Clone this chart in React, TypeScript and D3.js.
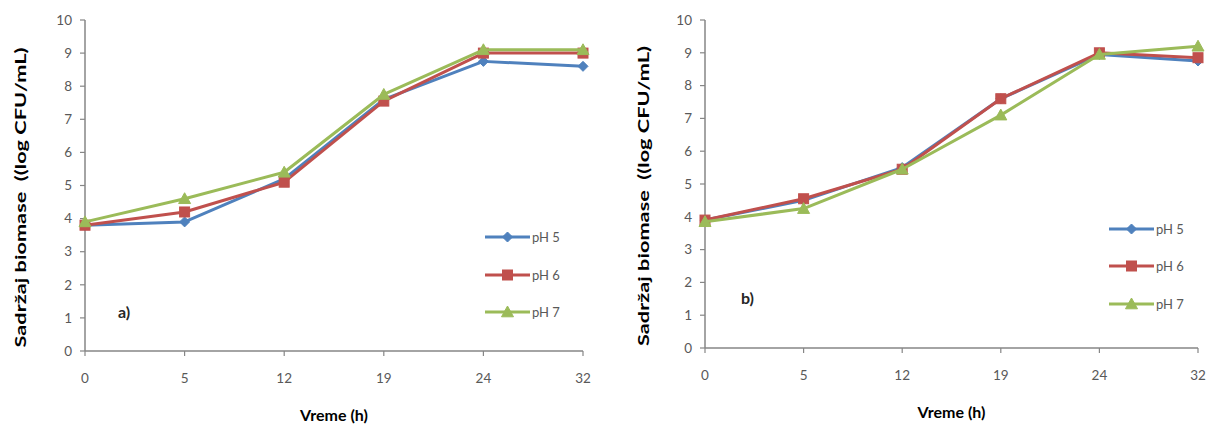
import React from "react";
import * as d3 from "d3";

const categories = ["0", "5", "12", "19", "24", "32"];
const seriesNames = ["pH 5", "pH 6", "pH 7"];
const colors = ["#4F81BD", "#C0504D", "#9BBB59"];
const yTicks = [0, 1, 2, 3, 4, 5, 6, 7, 8, 9, 10];

const panelA_pH5 = [3.8, 3.9, 5.2, 7.6, 8.75, 8.6];
const panelA_pH6 = [3.8, 4.2, 5.1, 7.55, 9.0, 9.0];
const panelA_pH7 = [3.9, 4.6, 5.4, 7.75, 9.1, 9.1];

const panelB_pH5 = [3.9, 4.5, 5.5, 7.6, 8.95, 8.75];
const panelB_pH6 = [3.9, 4.55, 5.45, 7.6, 9.0, 8.85];
const panelB_pH7 = [3.85, 4.25, 5.45, 7.1, 8.95, 9.2];

const yTitle = "Sadržaj biomase  ((log CFU/mL)";
const xTitle = "Vreme (h)";

const FONT = "Lato, 'Open Sans', sans-serif";

function Marker({ i, x, y }: { i: number; x: number; y: number }) {
  const c = colors[i];
  if (i === 0) {
    const s = 5;
    return <path d={`M${x},${y - s}L${x + s},${y}L${x},${y + s}L${x - s},${y}Z`} fill={c} stroke={c} />;
  }
  if (i === 1) {
    const s = 5;
    return <rect x={x - s} y={y - s} width={2 * s} height={2 * s} fill={c} stroke={c} />;
  }
  const s = 6;
  return <path d={`M${x},${y - s}L${x + s},${y + s * 0.8}L${x - s},${y + s * 0.8}Z`} fill={c} stroke={c} />;
}

function Panel(props: {
  left: number; right: number; top: number; bottom: number;
  series: number[][]; label: string; labelX: number; labelY: number;
  legendX: number; legendY: number[]; yTitleX: number; xTitleY: number;
}) {
  const { left, right, top, bottom, series } = props;
  const x = d3.scalePoint<string>().domain(categories).range([left, right]);
  const y = d3.scaleLinear().domain([0, 10]).range([bottom, top]);
  const line = d3.line<number>().x((_, j) => x(categories[j])!).y((d) => y(d));
  const axisColor = "#868686";
  const textColor = "#595959";
  return (
    <g>
      <line x1={left} x2={left} y1={y(10)} y2={y(0)} stroke={axisColor} strokeWidth={1.5} />
      {yTicks.map((t) => (
        <g key={t}>
          <line x1={left - 5} x2={left} y1={y(t)} y2={y(t)} stroke={axisColor} strokeWidth={1.2} />
          <text x={left - 13} y={y(t)} dy="0.35em" textAnchor="end" fontSize={13.5} fill={textColor} fontFamily={FONT}>{t}</text>
        </g>
      ))}
      <line x1={left} x2={right} y1={bottom} y2={bottom} stroke={axisColor} strokeWidth={1.5} />
      {categories.map((c) => (
        <g key={c}>
          <line x1={x(c)!} x2={x(c)!} y1={bottom} y2={bottom + 5} stroke={axisColor} strokeWidth={1.2} />
          <text x={x(c)!} y={bottom + 27} dy="0.35em" textAnchor="middle" fontSize={13.5} fill={textColor} fontFamily={FONT}>{c}</text>
        </g>
      ))}
      {series.map((s, i) => (
        <g key={i}>
          <path d={line(s)!} fill="none" stroke={colors[i]} strokeWidth={3} strokeLinejoin="round" />
          {s.map((v, j) => (
            <Marker key={j} i={i} x={x(categories[j])!} y={y(v)} />
          ))}
        </g>
      ))}
      {seriesNames.map((n, i) => (
        <g key={n}>
          <line x1={props.legendX} x2={props.legendX + 45} y1={props.legendY[i]} y2={props.legendY[i]} stroke={colors[i]} strokeWidth={3} />
          <Marker i={i} x={props.legendX + 22.5} y={props.legendY[i]} />
          <text x={props.legendX + 47} y={props.legendY[i]} dy="0.35em" fontSize={13} fill={textColor} fontFamily={FONT}>{n}</text>
        </g>
      ))}
      <text x={props.labelX} y={props.labelY} dy="0.35em" fontSize={16} fontWeight="bold" fill="#262626" fontFamily={FONT}>{props.label}</text>
      <text
        transform={`translate(${props.yTitleX},${(top + bottom) / 2 + 12}) rotate(-90)`}
        textAnchor="middle" dy="0.35em" fontSize={16} fontWeight="bold" fill="#000" fontFamily={FONT}
        textLength={300} lengthAdjust="spacingAndGlyphs" style={{ whiteSpace: "pre" }}
      >{yTitle}</text>
      <text x={(left + right) / 2} y={props.xTitleY} dy="0.35em" textAnchor="middle" fontSize={16} fontWeight="bold" fill="#000" fontFamily={FONT}>{xTitle}</text>
    </g>
  );
}

export default function App() {
  return (
    <svg width={1213} height={430} style={{ position: "absolute", left: 0, top: 0, background: "#fff" }}>
      <rect width={1213} height={430} fill="#fff" />
      <Panel
        left={85} right={583} top={20} bottom={351}
        series={[panelA_pH5, panelA_pH6, panelA_pH7]}
        label="a)" labelX={118} labelY={312}
        legendX={485} legendY={[237, 275, 312]}
        yTitleX={20} xTitleY={415}
      />
      <Panel
        left={705} right={1198} top={20} bottom={348}
        series={[panelB_pH5, panelB_pH6, panelB_pH7]}
        label="b)" labelX={741} labelY={298}
        legendX={1109} legendY={[229, 266, 304]}
        yTitleX={643} xTitleY={412}
      />
    </svg>
  );
}
